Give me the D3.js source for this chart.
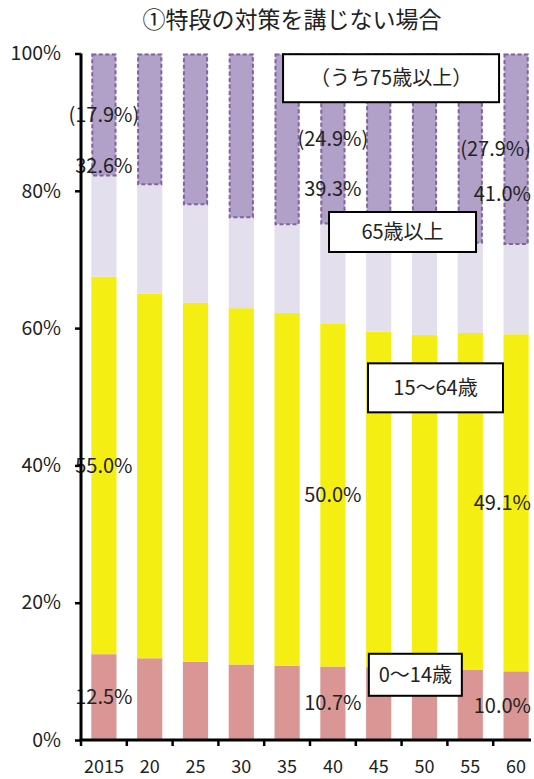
<!DOCTYPE html>
<html>
<head>
<meta charset="utf-8">
<script src="https://cdn.jsdelivr.net/npm/d3@7"></script>
<style>
  body { margin: 0; background: #fff; }
  text { font-family: "Noto Sans CJK JP", "Noto Sans", sans-serif; fill: #222; }
</style>
</head>
<body>
<div id="chart"></div>
<script>
// 年次（2015年〜2060年）
const years = ["2015", "20", "25", "30", "35", "40", "45", "50", "55", "60"];
// 年齢3区分別人口構成比（%）
const age0to14 = [12.5, 11.9, 11.4, 11.0, 10.8, 10.7, 10.6, 10.4, 10.2, 10.0];
const age15to64 = [55.0, 53.1, 52.3, 51.9, 51.4, 50.0, 48.9, 48.6, 49.1, 49.1];
const age65plus = [32.6, 35.0, 36.3, 37.1, 37.8, 39.3, 40.5, 41.0, 40.7, 41.0];
// うち75歳以上
const age75plus = [17.9, 19.2, 22.1, 24.0, 25.0, 24.9, 25.6, 27.2, 27.7, 27.9];
// 数値ラベルを表示する年
const labelledYears = ["2015", "40", "60"];
const yTicks = [0, 20, 40, 60, 80, 100];
const chartTitle = "①特段の対策を講じない場合";

const W = 534, H = 779;
const margin = {top: 53.5, left: 81, bottom: 39};
const plotH = H - margin.top - margin.bottom;
const step = 45.8;

const svg = d3.select("#chart").append("svg")
    .attr("width", W)
    .attr("height", H);

const x = d3.scaleBand()
    .domain(years)
    .range([margin.left, margin.left + step * years.length])
    .paddingInner(0.45)
    .paddingOuter(0.225);

const y = d3.scaleLinear()
    .domain([0, 100])
    .range([margin.top + plotH, margin.top]);

const rows = years.map((yr, i) => ({
    year: yr,
    a: age0to14[i],
    b: age15to64[i],
    c: age65plus[i],
    d: age75plus[i]
}));

// title
svg.append("text")
    .attr("x", 292)
    .attr("y", 28)
    .attr("text-anchor", "middle")
    .style("font-size", "23px")
    .text(chartTitle);

const bars = svg.append("g");

// 0〜14歳
bars.selectAll(".b0").data(rows).enter().append("rect")
    .attr("x", d => x(d.year))
    .attr("width", x.bandwidth())
    .attr("y", d => y(d.a))
    .attr("height", d => y(0) - y(d.a))
    .attr("fill", "#d99694");

// 15〜64歳
bars.selectAll(".b1").data(rows).enter().append("rect")
    .attr("x", d => x(d.year))
    .attr("width", x.bandwidth())
    .attr("y", d => y(d.a + d.b))
    .attr("height", d => y(d.a) - y(d.a + d.b))
    .attr("fill", "#f4ee12");

// 65歳以上
bars.selectAll(".b2").data(rows).enter().append("rect")
    .attr("x", d => x(d.year))
    .attr("width", x.bandwidth())
    .attr("y", d => y(100))
    .attr("height", d => y(d.a + d.b) - y(100))
    .attr("fill", "#e4dfec");

// うち75歳以上
bars.selectAll(".b3").data(rows).enter().append("rect")
    .attr("x", d => x(d.year) + 1)
    .attr("width", x.bandwidth() - 2)
    .attr("y", d => y(100) + 1)
    .attr("height", d => y(100 - d.d) - y(100) - 2)
    .attr("fill", "#b1a0c7")
    .attr("stroke", "#8064a2")
    .attr("stroke-width", 2)
    .attr("stroke-dasharray", "4,2.5");

// data labels
const plotRight = 531;
const labelRows = rows.filter(d => labelledYears.includes(d.year));
const labelSpecs = [];
labelRows.forEach(d => {
    labelSpecs.push({year: d.year, v: d.a / 2, t: d.a.toFixed(1) + "%"});
    labelSpecs.push({year: d.year, v: d.a + d.b / 2, t: d.b.toFixed(1) + "%"});
    labelSpecs.push({year: d.year, v: 100 - d.c / 2, t: d.c.toFixed(1) + "%"});
    labelSpecs.push({year: d.year, v: 100 - d.d / 2, t: "(" + d.d.toFixed(1) + "%)"});
});

svg.append("g").selectAll("text").data(labelSpecs).enter().append("text")
    .attr("x", d => x(d.year) + x.bandwidth() / 2)
    .attr("y", d => y(d.v))
    .attr("dy", "0.36em")
    .attr("text-anchor", "middle")
    .style("font-size", "20px")
    .text(d => d.t)
    .each(function () {
        const w = this.getComputedTextLength();
        const cx = +this.getAttribute("x");
        if (cx + w / 2 > plotRight) this.setAttribute("x", plotRight - w / 2);
    });

// axes
const yAxis = svg.append("g")
    .attr("transform", "translate(" + margin.left + ",0)")
    .call(d3.axisLeft(y).tickValues(yTicks).tickSize(6).tickPadding(14).tickFormat(d => d + "%"));
yAxis.select(".domain").attr("stroke", "#000").attr("stroke-width", 3)
    .attr("d", "M0," + y(100) + "V" + y(0));
yAxis.selectAll(".tick line").attr("stroke", "#000").attr("stroke-width", 2.5);
yAxis.selectAll(".tick text").style("font-size", "19.5px").attr("fill", "#222");

const xAxis = svg.append("g")
    .attr("transform", "translate(0," + y(0) + ")")
    .call(d3.axisBottom(x).tickSize(0).tickPadding(20));
xAxis.select(".domain").attr("stroke", "#000").attr("stroke-width", 3)
    .attr("d", "M" + (margin.left - 1.5) + ",0H" + plotRight);
xAxis.selectAll(".tick text").style("font-size", "18px").attr("fill", "#222");
xAxis.selectAll(".sep").data(years).enter().append("line")
    .attr("x1", (d, i) => margin.left + i * x.step())
    .attr("x2", (d, i) => margin.left + i * x.step())
    .attr("y1", 0)
    .attr("y2", 6)
    .attr("stroke", "#000")
    .attr("stroke-width", 2.5);

// series name boxes (position in band steps / percent)
const boxes = [
    {t: "（うち75歳以上）", cx: 6.77, cy: 96.4, w: 216, h: 48},
    {t: "65歳以上", cx: 7.02, cy: 74.0, w: 147, h: 40},
    {t: "15～64歳", cx: 7.74, cy: 51.3, w: 135, h: 49},
    {t: "0～14歳", cx: 7.30, cy: 9.5, w: 93, h: 42}
];
const bx = svg.append("g").selectAll("g").data(boxes).enter().append("g")
    .attr("transform", d => "translate(" + (margin.left + d.cx * x.step()) + "," + y(d.cy) + ")");
bx.append("rect")
    .attr("x", d => -d.w / 2)
    .attr("y", d => -d.h / 2)
    .attr("width", d => d.w)
    .attr("height", d => d.h)
    .attr("fill", "#fff")
    .attr("stroke", "#000")
    .attr("stroke-width", 2);
bx.append("text")
    .attr("text-anchor", "middle")
    .attr("dy", "0.36em")
    .style("font-size", "20px")
    .text(d => d.t);
</script>
</body>
</html>
